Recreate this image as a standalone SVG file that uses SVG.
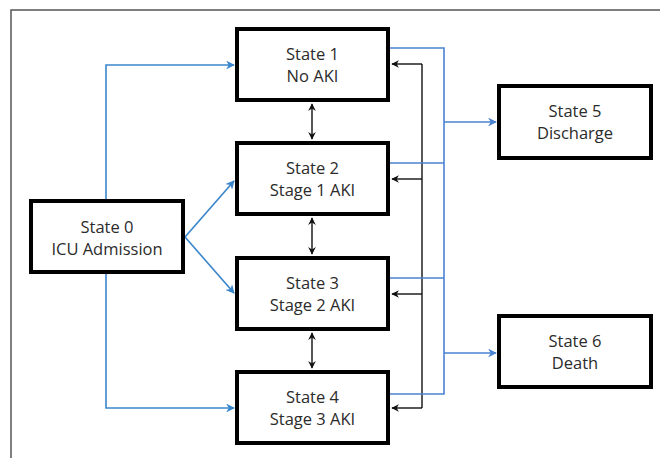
<svg xmlns="http://www.w3.org/2000/svg" width="660" height="458" viewBox="0 0 660 458">
  <style>
    .box { fill: #ffffff; stroke: #000000; stroke-width: 4; }
    .lbl { font-family: "Open Sans", "Liberation Sans", sans-serif; font-size: 16.5px; fill: #2b2b2b; text-anchor: middle; }
    .blue { fill: none; stroke: #4a82d2; stroke-width: 1.6; }
    .blueL { fill: none; stroke: #3a86cc; stroke-width: 1.6; }
    .blk { fill: none; stroke: #111111; stroke-width: 1.4; }
  </style>
  <defs>
    <marker id="ab" viewBox="0 0 10 10" refX="9" refY="5" markerWidth="5.5" markerHeight="5.5" orient="auto" markerUnits="strokeWidth">
      <path d="M0,0 L10,5 L0,10 L3,5 z" fill="#4a82d2"/>
    </marker>
    <marker id="abL" viewBox="0 0 10 10" refX="9" refY="5" markerWidth="5.5" markerHeight="5.5" orient="auto" markerUnits="strokeWidth">
      <path d="M0,0 L10,5 L0,10 L3,5 z" fill="#3a86cc"/>
    </marker>
    <marker id="ak" viewBox="0 0 10 10" refX="9" refY="5" markerWidth="5.5" markerHeight="5.5" orient="auto-start-reverse" markerUnits="strokeWidth">
      <path d="M0,0 L10,5 L0,10 L3,5 z" fill="#111111"/>
    </marker>
  </defs>
  <rect x="0" y="0" width="660" height="458" fill="#ffffff"/>
  <rect x="11" y="10" width="700" height="500" fill="none" stroke="#555555" stroke-width="1.5"/>

  <g id="connectors">
    <path class="blueL" d="M106,201 V65 H234" marker-end="url(#abL)"/>
    <path class="blueL" d="M106,274 V408 H234" marker-end="url(#abL)"/>
    <path class="blueL" d="M185,237 L234,181" marker-end="url(#abL)"/>
    <path class="blueL" d="M185,237 L234,293" marker-end="url(#abL)"/>

    <path class="blk" d="M312,104 V139" marker-start="url(#ak)" marker-end="url(#ak)"/>
    <path class="blk" d="M312,218 V254" marker-start="url(#ak)" marker-end="url(#ak)"/>
    <path class="blk" d="M312,333 V368" marker-start="url(#ak)" marker-end="url(#ak)"/>

    <path class="blk" d="M422,64 V408"/>
    <path class="blk" d="M422,64 H392" marker-end="url(#ak)"/>
    <path class="blk" d="M422,179 H392" marker-end="url(#ak)"/>
    <path class="blk" d="M422,294 H392" marker-end="url(#ak)"/>
    <path class="blk" d="M422,408 H392" marker-end="url(#ak)"/>

    <path class="blue" d="M390,48 H444 V394 H390"/>
    <path class="blue" d="M390,163 H444"/>
    <path class="blue" d="M390,278 H444"/>
    <path class="blue" d="M444,122 H496" marker-end="url(#ab)"/>
    <path class="blue" d="M444,353 H496" marker-end="url(#ab)"/>
  </g>

  <g id="state0">
    <rect class="box" x="31" y="201" width="152" height="71"/>
    <text class="lbl" x="107" y="233">State 0</text>
    <text class="lbl" x="107" y="255">ICU Admission</text>
  </g>
  <g id="state1">
    <rect class="box" x="237" y="29" width="151" height="71"/>
    <text class="lbl" x="312.5" y="60">State 1</text>
    <text class="lbl" x="312.5" y="82">No AKI</text>
  </g>
  <g id="state2">
    <rect class="box" x="237" y="143" width="151" height="71"/>
    <text class="lbl" x="312.5" y="174">State 2</text>
    <text class="lbl" x="312.5" y="196">Stage 1 AKI</text>
  </g>
  <g id="state3">
    <rect class="box" x="237" y="258" width="151" height="71"/>
    <text class="lbl" x="312.5" y="289">State 3</text>
    <text class="lbl" x="312.5" y="311">Stage 2 AKI</text>
  </g>
  <g id="state4">
    <rect class="box" x="237" y="372" width="151" height="71"/>
    <text class="lbl" x="312.5" y="403">State 4</text>
    <text class="lbl" x="312.5" y="425">Stage 3 AKI</text>
  </g>
  <g id="state5">
    <rect class="box" x="499" y="86" width="152" height="72"/>
    <text class="lbl" x="575" y="117">State 5</text>
    <text class="lbl" x="575" y="139">Discharge</text>
  </g>
  <g id="state6">
    <rect class="box" x="499" y="316" width="152" height="71"/>
    <text class="lbl" x="575" y="347">State 6</text>
    <text class="lbl" x="575" y="369">Death</text>
  </g>
</svg>
